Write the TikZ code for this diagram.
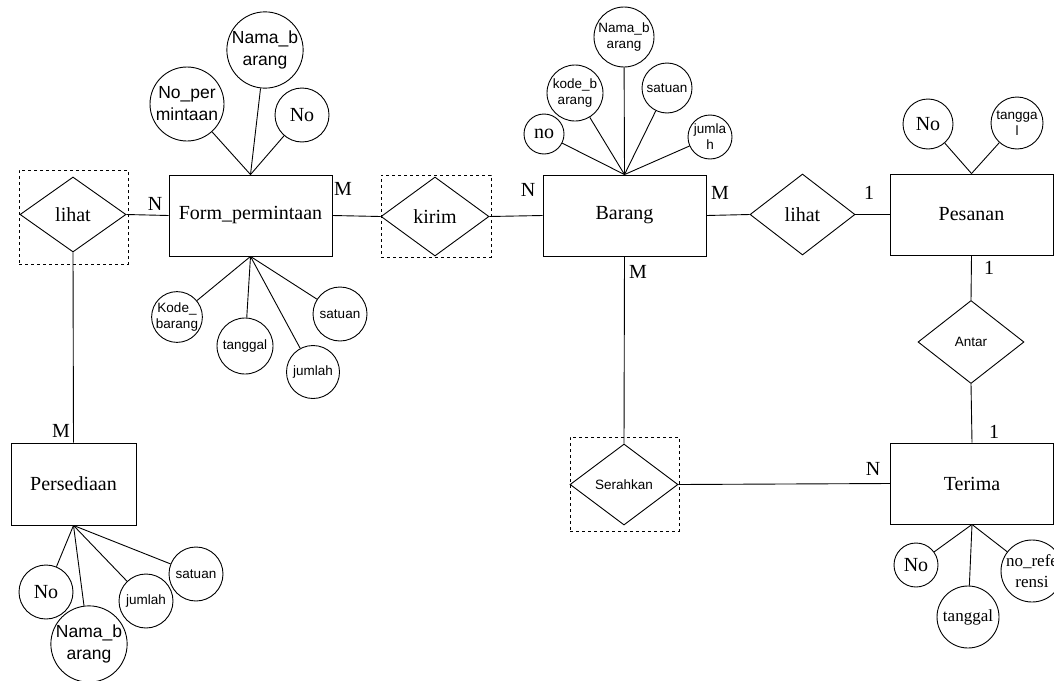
\documentclass[tikz,border=0pt]{standalone}
\usepackage{fontspec}
\setmainfont{Liberation Serif}
\setsansfont{Liberation Sans}
\usetikzlibrary{shapes.geometric}

\tikzset{
  ent/.style={draw,rectangle,inner sep=0pt,minimum width=163pt,minimum height=81pt,font=\fontsize{20}{22}\selectfont},
  rel/.style={draw,diamond,inner sep=0pt,font=\fontsize{20}{22}\selectfont},
  relbox/.style={draw,dashed,rectangle,inner sep=0pt},
  attr/.style={draw,circle,inner sep=0pt,align=center},
  card/.style={inner sep=0pt,font=\fontsize{20}{22}\selectfont},
  serifbig/.style={font=\fontsize{20}{22}\selectfont},
  serifmid/.style={font=\fontsize{17}{21}\selectfont},
  sansbig/.style={font=\sffamily\fontsize{17.5}{22}\selectfont},
  sanssmall/.style={font=\sffamily\fontsize{13.5}{16}\selectfont}
}

\begin{document}
\begin{tikzpicture}[x=1pt,y=-1pt,line width=0.9pt]
%
\useasboundingbox (0,0) rectangle (1054,680);
%
% entitas
\node[ent] (form) at (250.5,215.5) {Form\_permintaan};
\node[ent] (barang) at (624.5,215.5) {Barang};
\node[ent] (pesanan) at (971.5,214.5) {Pesanan};
\node[ent] (terima) at (972,483.5) {Terima};
\node[ent,minimum width=125pt,minimum height=82pt] (persediaan) at (73.5,484) {Persediaan};
%
% relasi
\node[relbox,minimum width=109pt,minimum height=94pt] (lihatAbox) at (73.5,217) {};
\node[rel,minimum width=106pt,minimum height=75pt] (lihatA) at (73,214.5) {lihat};
\node[relbox,minimum width=110pt,minimum height=82pt] (kirimbox) at (436,216) {};
\node[rel,minimum width=108pt,minimum height=79pt] (kirim) at (435,216.5) {kirim};
\node[rel,minimum width=105pt,minimum height=81pt] (lihatB) at (802.5,214.5) {lihat};
\node[rel,sanssmall,minimum width=106pt,minimum height=83pt] (antar) at (971,342) {Antar};
\node[relbox,minimum width=109pt,minimum height=94pt] (serahbox) at (624.5,484) {};
\node[rel,sanssmall,minimum width=108pt,minimum height=81pt] (serahkan) at (624,484.5) {Serahkan};
%
\draw (lihatA.east) -- (form.west);
\draw (form.east) -- (kirim.west);
\draw (kirim.east) -- (barang.west);
\draw (barang.east) -- (lihatB.west);
\draw (lihatB.east) -- (pesanan.west);
\draw (pesanan.south) -- (antar.north);
\draw (antar.south) -- (terima.north);
\draw (barang.south) -- (serahkan.north);
\draw (serahkan.east) -- (terima.west);
\draw (lihatA.south) -- (persediaan.north);
%
% kardinalitas
\node[card] (cFormN) at (155,204) {N};
\node[card] (cFormM) at (343,189) {M};
\node[card] (cBarangN) at (528,190) {N};
\node[card] (cBarangM) at (720,193) {M};
\node[card] (cBarangS) at (638,272) {M};
\node[card] (cPesananW) at (869,193) {1};
\node[card] (cPesananS) at (989,268) {1};
\node[card] (cTerimaN) at (994,432) {1};
\node[card] (cTerimaW) at (873,469) {N};
\node[card] (cPersedM) at (61,431) {M};
%
% atribut Form_permintaan
\node[attr,sansbig,minimum size=74pt] (fNoPer) at (187,104) {No\_per\\mintaan};
\node[attr,sansbig,minimum size=74pt] (fNama) at (265,50) {Nama\_b\\arang};
\node[attr,serifbig,minimum size=54pt] (fNo) at (302,115) {No};
\node[attr,sanssmall,minimum size=50pt] (fKode) at (177,317) {Kode\_\\barang};
\node[attr,sanssmall,minimum size=56pt] (fTgl) at (245,346) {tanggal};
\node[attr,sanssmall,minimum size=53pt] (fJml) at (313,372) {jumlah};
\node[attr,sanssmall,minimum size=54pt] (fSat) at (340,314) {satuan};
\draw (form.north) -- (fNoPer);
\draw (form.north) -- (fNama);
\draw (form.north) -- (fNo);
\draw (form.south) -- (fKode);
\draw (form.south) -- (fTgl);
\draw (form.south) -- (fJml);
\draw (form.south) -- (fSat);
%
% atribut Barang
\node[attr,serifbig,minimum size=40pt] (bNo) at (544,134) {no};
\node[attr,sanssmall,minimum size=56pt] (bKode) at (575,93) {kode\_b\\arang};
\node[attr,sanssmall,minimum size=60pt] (bNama) at (624,37) {Nama\_b\\arang};
\node[attr,sanssmall,minimum size=50pt] (bSat) at (667,88) {satuan};
\node[attr,sanssmall,minimum size=44pt] (bJml) at (710,137) {jumla\\h};
\draw (barang.north) -- (bNo);
\draw (barang.north) -- (bKode);
\draw (barang.north) -- (bNama);
\draw (barang.north) -- (bSat);
\draw (barang.north) -- (bJml);
%
% atribut Pesanan
\node[attr,serifbig,minimum size=50pt] (pNo) at (928,124) {No};
\node[attr,sanssmall,minimum size=52pt] (pTgl) at (1017,123) {tangga\\l};
\draw (pesanan.north) -- (pNo);
\draw (pesanan.north) -- (pTgl);
%
% atribut Terima
\node[attr,serifbig,minimum size=44pt] (tNo) at (916,565) {No};
\node[attr,serifmid,minimum size=62pt] (tTgl) at (968,617) {tanggal};
\node[attr,serifmid,minimum size=62pt] (tRef) at (1032,571) {no\_refe\\rensi};
\draw (terima.south) -- (tNo);
\draw (terima.south) -- (tTgl);
\draw (terima.south) -- (tRef);
%
% atribut Persediaan
\node[attr,serifbig,minimum size=54pt] (sNo) at (46,592) {No};
\node[attr,sansbig,minimum size=76pt] (sNama) at (89,644) {Nama\_b\\arang};
\node[attr,sanssmall,minimum size=54pt] (sJml) at (146,601) {jumlah};
\node[attr,sanssmall,minimum size=54pt] (sSat) at (196,574) {satuan};
\draw (persediaan.south) -- (sNo);
\draw (persediaan.south) -- (sNama);
\draw (persediaan.south) -- (sJml);
\draw (persediaan.south) -- (sSat);
%
\end{tikzpicture}
\end{document}
